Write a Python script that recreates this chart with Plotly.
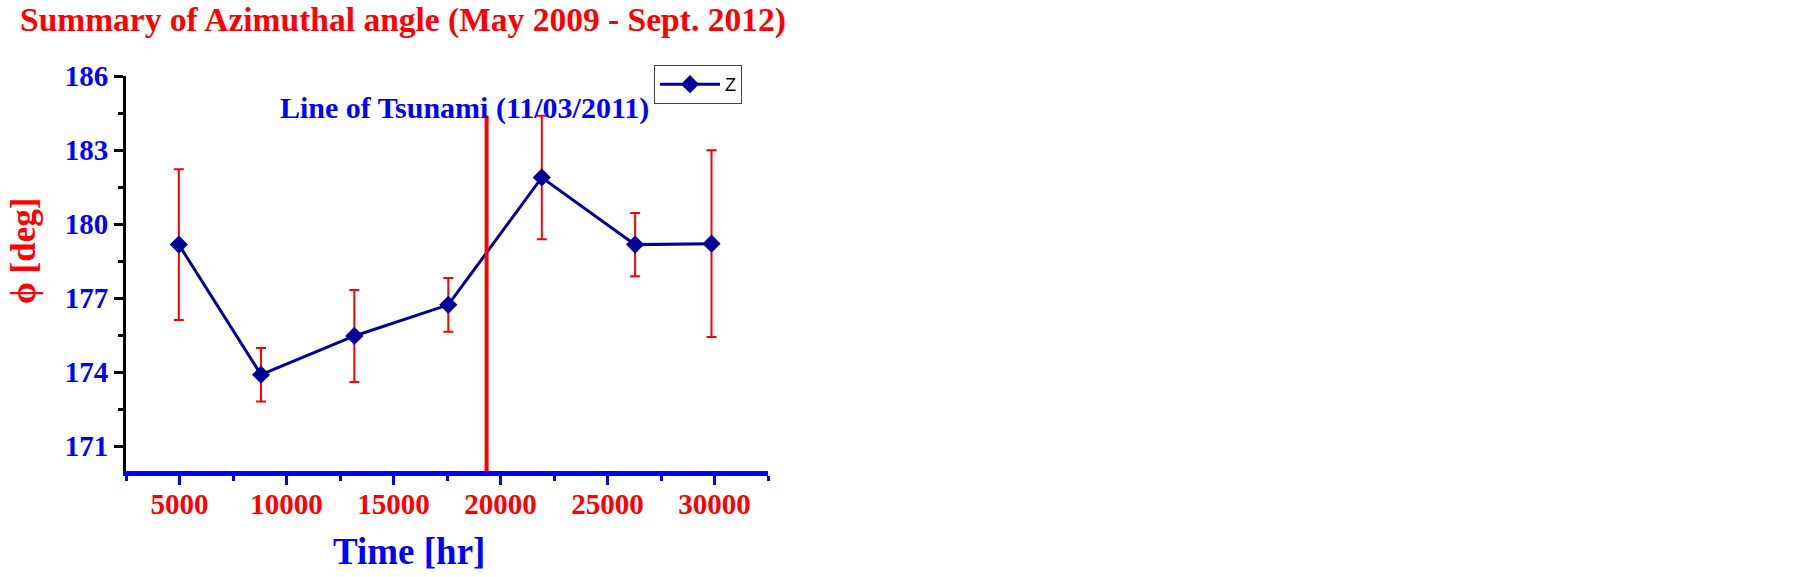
import plotly.graph_objs as go

# hours since start of record, azimuthal angle and its spread
time_hr = [4970, 8810, 13170, 17560, 21930, 26290, 29860]
phi_deg = [179.17, 173.90, 175.47, 176.73, 181.89, 179.17, 179.21]
phi_err = [3.05, 1.08, 1.86, 1.09, 2.50, 1.28, 3.78]

tsunami_hr = 19350
tsunami_span = [170.0, 184.4]

x_ticks = [5000, 10000, 15000, 20000, 25000, 30000]
y_ticks = [171, 174, 177, 180, 183, 186]

serif = 'Liberation Serif'

fig = go.Figure()
fig.add_traces(
    go.Scatter(
        name='Z',
        x=time_hr,
        y=phi_deg,
        mode='lines+markers',
        line={'color': '#000099', 'width': 3},
        marker={'symbol': 'diamond', 'size': 14, 'color': '#000099'},
        error_y={
            'type': 'data',
            'array': phi_err,
            'color': '#ff0000',
            'thickness': 2,
            'width': 5,
        },
    )
)
fig.add_traces(
    go.Scatter(
        name='Tsunami',
        x=[tsunami_hr, tsunami_hr],
        y=tsunami_span,
        mode='lines',
        line={'color': '#ff0000', 'width': 4},
        showlegend=False,
        hoverinfo='skip',
    )
)

fig.update_layout(
    width=1799,
    height=577,
    autosize=False,
    margin={'l': 126, 'r': 1031, 't': 76, 'b': 106},
    paper_bgcolor='white',
    plot_bgcolor='white',
    title={
        'text': '<b>Summary of Azimuthal angle (May 2009 - Sept. 2012)</b>',
        'font': {'family': serif, 'size': 33.5, 'color': '#ff0000'},
        'xref': 'container',
        'yref': 'container',
        'x': 20 / 1799,
        'xanchor': 'left',
        'y': 1 - 19.5 / 577,
        'yanchor': 'middle',
    },
    showlegend=True,
    legend={
        'x': (654 - 126) / 642,
        'y': 1 + 11 / 395,
        'xanchor': 'left',
        'yanchor': 'top',
        'bgcolor': 'white',
        'bordercolor': '#444444',
        'borderwidth': 1,
        'font': {'family': 'Liberation Sans', 'size': 18, 'color': 'black'},
        'itemwidth': 60,
    },
    xaxis={
        'range': [2500, 32500],
        'tickvals': x_ticks,
        'ticktext': [f'<b>{v}</b>' for v in x_ticks],
        'tickfont': {'family': serif, 'size': 29, 'color': '#ff0000'},
        'ticklabelstandoff': -6,
        'ticks': 'outside',
        'ticklen': 9,
        'tickwidth': 3,
        'tickcolor': '#0000ff',
        'minor': {
            'tickvals': [2500, 7500, 12500, 17500, 22500, 27500, 32500],
            'ticks': 'outside',
            'ticklen': 5,
            'tickwidth': 3,
            'tickcolor': '#0000ff',
        },
        'showline': True,
        'linecolor': '#0000ff',
        'linewidth': 5,
        'showgrid': False,
        'zeroline': False,
        'fixedrange': True,
    },
    yaxis={
        'range': [170, 186],
        'tickvals': y_ticks,
        'ticktext': [f'<b>{v}</b>' for v in y_ticks],
        'tickfont': {'family': serif, 'size': 29, 'color': '#0000ff'},
        'ticks': 'outside',
        'ticklen': 9,
        'tickwidth': 3,
        'tickcolor': 'black',
        'minor': {
            'tickvals': [172.5, 175.5, 178.5, 181.5, 184.5],
            'ticks': 'outside',
            'ticklen': 5,
            'tickwidth': 3,
            'tickcolor': 'black',
        },
        'showline': True,
        'linecolor': 'black',
        'linewidth': 3,
        'showgrid': False,
        'zeroline': False,
        'fixedrange': True,
    },
    annotations=[
        {
            'text': '<b>Line of Tsunami (11/03/2011)</b>',
            'xref': 'x',
            'yref': 'y',
            'x': 18300,
            'y': 184.7,
            'showarrow': False,
            'font': {'family': serif, 'size': 30, 'color': '#0000ff'},
        },
        {
            'text': '<b>Time [hr]</b>',
            'xref': 'paper',
            'yref': 'paper',
            'x': (409 - 126) / 642,
            'y': -(551 - 471) / 395,
            'xanchor': 'center',
            'yanchor': 'middle',
            'showarrow': False,
            'font': {'family': serif, 'size': 37, 'color': '#0000ff'},
        },
        {
            'text': '<b>\u03d5 [deg]</b>',
            'xref': 'paper',
            'yref': 'paper',
            'x': -(126 - 24) / 642,
            'y': 1 - (251 - 76) / 395,
            'xanchor': 'center',
            'yanchor': 'middle',
            'textangle': -90,
            'showarrow': False,
            'font': {'family': serif, 'size': 35, 'color': '#ff0000'},
        },
    ],
    hovermode='closest',
)

# the page body has an 8px margin by default; drop it so the figure sits at 0,0
fig.write_html(
    'out.html',
    config={'displayModeBar': False},
    post_script="document.body.style.margin = '0';",
)
